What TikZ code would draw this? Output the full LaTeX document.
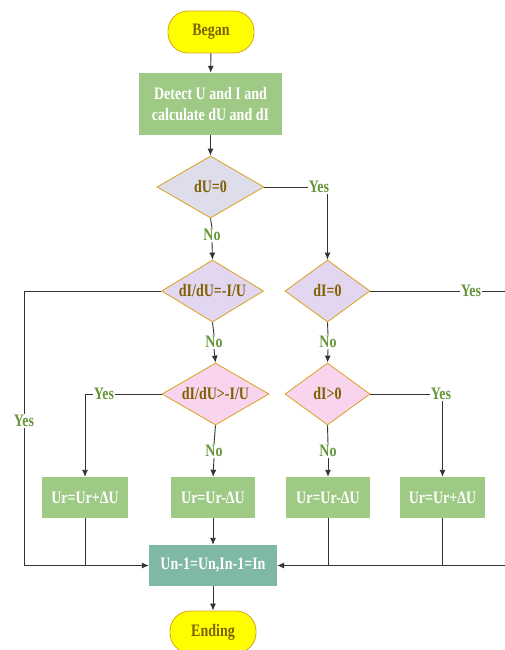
\documentclass[tikz,border=0pt]{standalone}
\usepackage{fontspec}
\setmainfont{Liberation Serif}[FakeStretch=0.8]
\usetikzlibrary{arrows.meta,shapes.geometric}
\definecolor{termfill}{HTML}{FFFF00}
\definecolor{termdraw}{HTML}{D9A21E}
\definecolor{procfill}{HTML}{9ECA86}
\definecolor{tealfill}{HTML}{80B8A8}
\definecolor{dfillA}{HTML}{DDDDEB}
\definecolor{dfillB}{HTML}{E3D6F1}
\definecolor{dfillC}{HTML}{F9D4EE}
\definecolor{dtext}{HTML}{7F6000}
\definecolor{lbl}{HTML}{66973A}
\definecolor{ln}{HTML}{333333}
\begin{document}
\begin{tikzpicture}[x=1pt,y=-1pt,
  every node/.style={font=\fontsize{17.5}{21}\selectfont\bfseries},
  term/.style={draw=termdraw,fill=termfill,text=dtext,rounded corners=20pt,minimum width=86pt,minimum height=42pt,inner sep=0pt,line width=0.8pt},
  proc/.style={fill=procfill,text=white,minimum height=41pt,inner sep=0pt,align=center},
  dec/.style={diamond,aspect=2.2,draw=termdraw,text=dtext,inner sep=0pt,minimum width=#1,minimum height=62pt,line width=0.8pt},
  lab/.style={text=lbl,inner sep=1pt},
  conn/.style={draw=ln,line width=0.9pt},
  arr/.style={conn,-{Latex[length=7pt,width=6pt]}}]
\useasboundingbox (0,0) rectangle (505,650);
% nodes
\node[term] (start) at (211,32) {Began};
\node[proc,minimum width=143pt,minimum height=62pt] (detect) at (210.5,104) {Detect U and I and\\calculate dU and dI};
\node[dec=107pt,fill=dfillA] (d1) at (210.5,187) {dU=0};
\node[dec=102pt,fill=dfillB] (d2) at (212.5,291) {dI/dU=-I/U};
\node[dec=107pt,fill=dfillC] (d3) at (215.5,394) {dI/dU>-I/U};
\node[dec=85pt,fill=dfillB] (d4) at (327.5,291) {dI=0};
\node[dec=85pt,fill=dfillC] (d5) at (327.5,394) {dI>0};
\node[proc,minimum width=86pt] (u1) at (85,497.5) {Ur=Ur+ΔU};
\node[proc,minimum width=84pt] (u2) at (213,497.5) {Ur=Ur-ΔU};
\node[proc,minimum width=84pt] (u3) at (328,497.5) {Ur=Ur-ΔU};
\node[proc,minimum width=85pt] (u4) at (442.5,497.5) {Ur=Ur+ΔU};
\node[proc,fill=tealfill,minimum width=128pt] (un) at (213,565.5) {Un-1=Un,In-1=In};
\node[term] (stop) at (213,632) {Ending};
% labels
\node[lab] (y1) at (319,187) {Yes};
\node[lab] (n1) at (212,235) {No};
\node[lab] (n2) at (214,342) {No};
\node[lab] (y2) at (24,421) {Yes};
\node[lab] (y3) at (104,394) {Yes};
\node[lab] (n3) at (214,451) {No};
\node[lab] (y4) at (471,291) {Yes};
\node[lab] (n4) at (328,342) {No};
\node[lab] (y5) at (441,394) {Yes};
\node[lab] (n5) at (328,451) {No};
\coordinate (rc) at (507,291);
\coordinate (rb) at (507,565.5);
% connectors
\draw[arr] (start) -- (detect);
\draw[arr] (detect) -- (d1);
\draw[conn] (d1.east) -- (y1.west);
\draw[arr] (y1.south -| d4.north) -- (d4.north);
\draw[conn] (d1.south) -- (n1.north);
\draw[arr] (n1.south) -- (d2.north);
\draw[conn] (d2.south) -- (n2.north);
\draw[arr] (n2.south) -- (d3.north);
\draw[conn] (d2.west) -- (d2.west -| y2.north) -- (y2.north);
\draw[arr] (y2.south) -- (y2.south |- un.west) -- (un.west);
\draw[conn] (d3.west) -- (y3.east);
\draw[arr] (y3.west) -- (y3.west -| u1.north) -- (u1.north);
\draw[conn] (d3.south) -- (n3.north);
\draw[arr] (n3.south) -- (u2.north);
\draw[conn] (d4.east) -- (y4.west);
\draw[conn] (y4.east) -- (rc) -- (rb);
\draw[arr] (rb) -- (un.east);
\draw[conn] (d4.south) -- (n4.north);
\draw[arr] (n4.south) -- (d5.north);
\draw[conn] (d5.east) -- (y5.west);
\draw[arr] (y5.south -| u4.north) -- (u4.north);
\draw[conn] (d5.south) -- (n5.north);
\draw[arr] (n5.south) -- (u3.north);
\draw[conn] (u1.south) -- (u1.south |- un.west);
\draw[arr] (u2.south) -- (un.north);
\draw[conn] (u3.south) -- (u3.south |- un.east);
\draw[conn] (u4.south) -- (u4.south |- un.east);
\draw[arr] (un.south) -- (stop.north);
\end{tikzpicture}
\end{document}
